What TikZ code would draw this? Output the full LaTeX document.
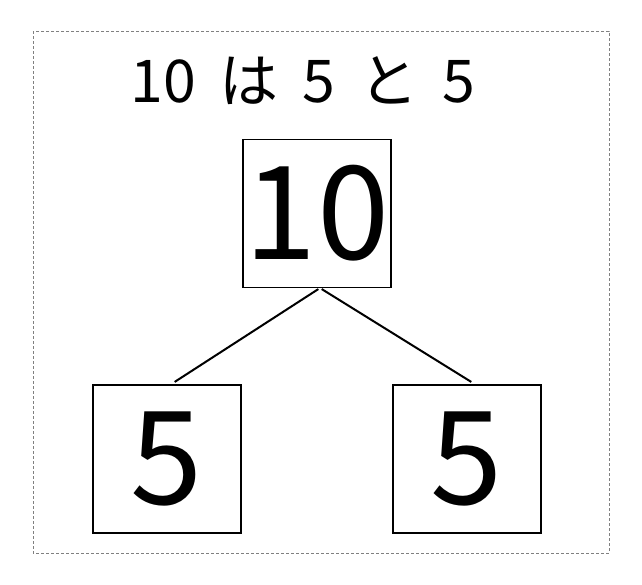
\documentclass[tikz,border=0pt]{standalone}
\usepackage{fontspec}
\setmainfont{Noto Sans CJK JP}
\begin{document}
\begin{tikzpicture}[x=1pt,y=-1pt,
  numbox/.style={draw,line width=1.1pt,minimum width=148pt,minimum height=148pt,inner sep=0pt,font=\fontsize{130}{130}\selectfont},
  titlestyle/.style={font=\fontsize{59}{59}\selectfont},
  link/.style={line width=2pt,shorten <=2pt,shorten >=2pt}]
\useasboundingbox (0,0) rectangle (642,584);
\draw[dashed,gray,line width=0.8pt,dash pattern=on 3pt off 2pt] (33,31) rectangle (609,553);
\node[anchor=base,titlestyle] (title) at (303,102) {\spaceskip=24pt\relax 10 は 5 と 5};
\node[numbox] (top) at (317,213.5) {10};
\node[numbox] (left) at (167,459) {5};
\node[numbox] (right) at (467,459) {5};
\coordinate (apex) at (320,288);
\coordinate (lend) at (173,383);
\coordinate (rend) at (473,383);
\draw[link] (apex) -- (lend);
\draw[link] (apex) -- (rend);
\end{tikzpicture}
\end{document}
